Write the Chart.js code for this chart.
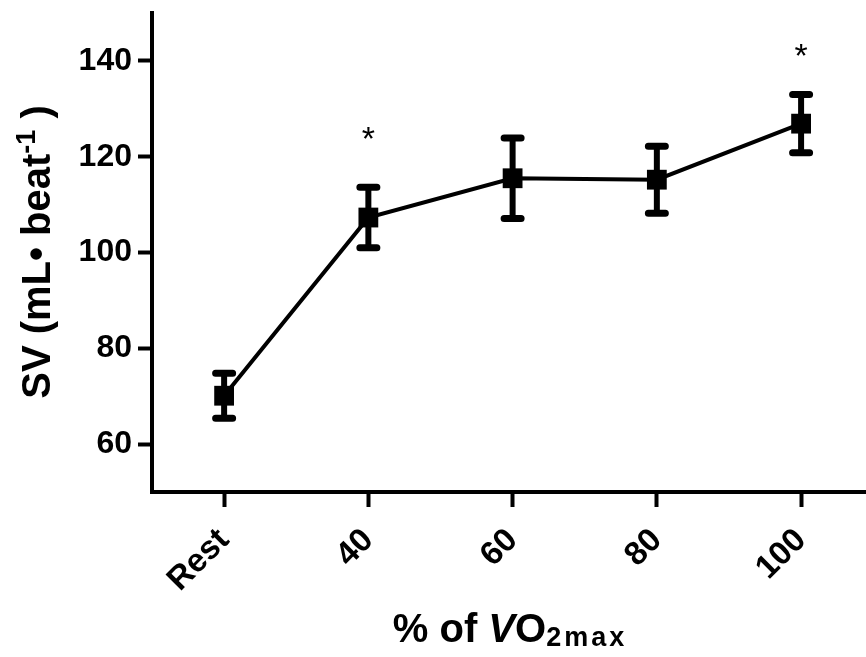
<!DOCTYPE html>
<html><head><meta charset="utf-8">
<script src="https://cdn.jsdelivr.net/npm/chart.js@4.4.0/dist/chart.umd.min.js"></script>
<style>html,body{margin:0;padding:0;background:#fff;overflow:hidden}canvas{display:block}</style>
</head><body><canvas id="c" width="866" height="657" style="width:866px;height:657px"></canvas>
<script>
const categories = ['Rest', '40', '60', '80', '100'];
const meanSV = [70.1, 107.3, 115.5, 115.2, 126.9];
const semSV = [4.7, 6.3, 8.4, 7.0, 6.1];
const sigMarkY = [null, 125.0, null, null, 142.3];
const yTicks = [60, 80, 100, 120, 140];

const FAM = '"Liberation Sans", Arial, Helvetica, sans-serif';

function drawRich(ctx, parts, cx, baseY) {
  let total = 0;
  parts.forEach(p => {
    ctx.font = p.font; ctx.letterSpacing = (p.ls || 0) + 'px';
    p.w = ctx.measureText(p.text).width; total += p.w;
  });
  let x = cx - total / 2;
  ctx.textAlign = 'left';
  ctx.textBaseline = 'alphabetic';
  parts.forEach(p => {
    ctx.font = p.font; ctx.letterSpacing = (p.ls || 0) + 'px';
    ctx.fillText(p.text, x, baseY + (p.dy || 0)); x += p.w;
  });
  ctx.letterSpacing = '0px';
}

const extras = {
  id: 'extras',
  afterDatasetsDraw(chart) {
    const { ctx, scales: { x, y } } = chart;
    ctx.save();
    ctx.strokeStyle = '#000';
    ctx.fillStyle = '#000';
    meanSV.forEach((m, i) => {
      const px = x.getPixelForValue(i);
      const top = y.getPixelForValue(m + semSV[i]);
      const bot = y.getPixelForValue(m - semSV[i]);
      ctx.lineWidth = 6; ctx.lineCap = 'butt';
      ctx.beginPath(); ctx.moveTo(px, top); ctx.lineTo(px, bot); ctx.stroke();
      ctx.lineWidth = 7; ctx.lineCap = 'round';
      ctx.beginPath();
      ctx.moveTo(px - 8.5, top); ctx.lineTo(px + 8.5, top);
      ctx.moveTo(px - 8.5, bot); ctx.lineTo(px + 8.5, bot);
      ctx.stroke();
      if (sigMarkY[i] !== null) {
        ctx.font = '34px ' + FAM;
        ctx.textAlign = 'center';
        ctx.textBaseline = 'alphabetic';
        const mt = ctx.measureText('*');
        const cy = y.getPixelForValue(sigMarkY[i]);
        ctx.fillText('*', px, cy + (mt.actualBoundingBoxAscent - mt.actualBoundingBoxDescent) / 2);
      }
    });
    ctx.restore();
  },
  afterDraw(chart) {
    const { ctx } = chart;
    ctx.save();
    ctx.fillStyle = '#000';
    ctx.translate(50, 252);
    ctx.rotate(-Math.PI / 2);
    drawRich(ctx, [
      { text: 'SV (mL\u2022 beat', font: 'bold 40px ' + FAM },
      { text: '-1', font: 'bold 27px ' + FAM, dy: -15 },
      { text: ' )', font: 'bold 40px ' + FAM }
    ], 0, 0);
    ctx.restore();
    ctx.save();
    ctx.fillStyle = '#000';
    drawRich(ctx, [
      { text: '% of ', font: 'bold 40px ' + FAM },
      { text: 'V', font: 'italic bold 40px ' + FAM },
      { text: 'O', font: 'bold 40px ' + FAM },
      { text: '2max', font: 'bold 27px ' + FAM, dy: 4, ls: 3 }
    ], 510, 642);
    ctx.restore();
  }
};

function zeroPad(s) { s.paddingTop = 0; s.paddingBottom = 0; s.paddingLeft = 0; s.paddingRight = 0; }

new Chart(document.getElementById('c'), {
  type: 'line',
  data: {
    datasets: [{
      data: meanSV.map((v, i) => ({ x: i, y: v })),
      borderColor: '#000',
      borderWidth: 4,
      pointStyle: 'rect',
      pointRadius: 14,
      pointBackgroundColor: '#000',
      pointBorderColor: '#000',
      pointBorderWidth: 0,
      tension: 0,
      clip: false
    }]
  },
  options: {
    responsive: false,
    devicePixelRatio: 1,
    animation: false,
    layout: { autoPadding: false, padding: { top: 13, right: 0, left: 0, bottom: 0 } },
    plugins: { legend: { display: false }, tooltip: { enabled: false } },
    scales: {
      x: {
        type: 'linear', min: -0.5, max: 4.45,
        afterBuildTicks(s) { s.ticks = categories.map((c, i) => ({ value: i })); },
        afterFit(s) { s.height = 165; zeroPad(s); },
        grid: { display: true, drawOnChartArea: false, drawTicks: true, tickLength: 15, tickWidth: 4, tickColor: '#000' },
        border: { display: true, width: 4, color: '#000' },
        ticks: {
          autoSkip: false, minRotation: 45, maxRotation: 45, padding: 14, color: '#000',
          font: { family: FAM, size: 33, weight: 'bold' },
          callback: (v) => categories[v]
        }
      },
      y: {
        min: 50, max: 150,
        afterBuildTicks(s) { s.ticks = yTicks.map(v => ({ value: v })); },
        afterFit(s) { s.width = 152; zeroPad(s); },
        grid: { display: true, drawOnChartArea: false, drawTicks: true, tickLength: 14, tickWidth: 4, tickColor: '#000' },
        border: { display: true, width: 4, color: '#000' },
        ticks: { padding: 6, color: '#000', font: { family: FAM, size: 32, weight: 'bold' } }
      }
    }
  },
  plugins: [extras]
});
</script>
</body></html>
